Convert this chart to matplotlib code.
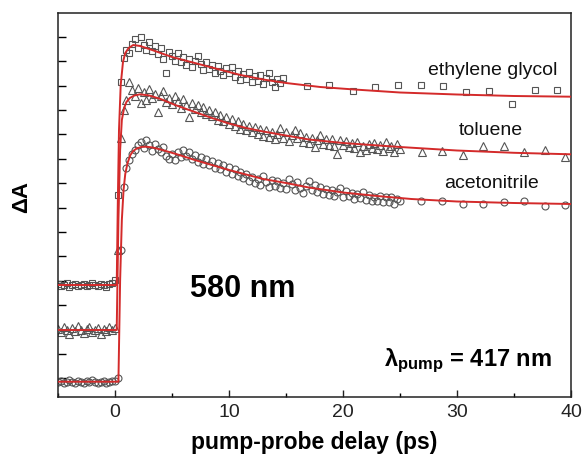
import numpy as np
import matplotlib
matplotlib.use('Agg')
import matplotlib.pyplot as plt
from matplotlib.ticker import MultipleLocator, FixedLocator

# ---------------- data (arbitrary dA units) ----------------
# dense scans (uniform delay-stage grid, 0.25 ps steps)
eg_x = np.arange(-5, 14.76, 0.25)
eg_y = [116, 114, 115, 117, 113, 115, 116, 114, 115, 116,
        114, 115, 117, 115, 114, 116, 115, 113, 116, 117,
        120, 205, 318, 342,
        350, 347, 356, 361,
        352, 363, 355, 350,
        358, 349, 354, 346,
        352, 341, 327, 348,
        344, 339, 347, 338,
        343, 335, 341, 333,
        339, 344, 336, 330,
        338, 331, 335, 327,
        334, 329, 325, 332,
        327, 333, 323, 329,
        320, 326, 321, 328,
        318, 324, 319, 325,
        316, 322, 327, 318,
        313, 321, 317, 322]
eg_sx = [16.8, 18.8, 20.9, 22.8, 24.8, 26.8, 28.8, 30.8, 32.8, 34.8, 36.8, 38.8]
eg_sy = [314, 315, 309, 313, 315, 315, 314, 308, 309, 296, 310, 310]

tol_x = np.arange(-5, 25.01, 0.25)
tol_y = [71, 68, 73, 70, 66, 72, 69, 74, 70, 67,
         71, 73, 68, 70, 72, 66, 71, 69, 73, 70,
         72, 150, 262, 290,
         300, 318, 310, 304,
         312, 297, 308, 300,
         311, 302, 306, 288,
         304, 309, 298, 302,
         296, 304, 299, 292,
         301, 295, 283, 297,
         291, 295, 288, 293,
         286, 290, 284, 288,
         280, 285, 279, 283,
         276, 281, 274, 279,
         271, 276, 270, 274,
         268, 273, 266, 271,
         264, 270, 263, 268,
         261, 266, 272, 262,
         268, 259, 265, 270,
         262, 267, 258, 263,
         257, 262, 253, 260,
         265, 256, 261, 255,
         261, 254, 246, 260,
         255, 259, 253, 257,
         252, 258, 248, 254,
         250, 256, 252, 257,
         251, 255, 249, 258,
         252, 254, 248, 256,
         251]
tol_sx = [26.9, 28.7, 30.5, 32.3, 34.1, 35.9, 37.7, 39.5]
tol_sy = [248, 249, 245, 254, 254, 248, 250, 243]

acn_x = np.arange(-5, 25.01, 0.25)
acn_y = [18, 19, 17, 18, 20, 18, 17, 19, 18, 17,
         19, 18, 20, 18, 17, 18, 19, 17, 18, 19,
         19, 22, 150, 213,
         232, 240, 246, 250,
         255, 258, 252, 260,
         255, 249, 256, 251,
         248, 253, 244, 241,
         246, 240, 248, 243,
         250, 244, 248, 241,
         245, 238, 243, 236,
         241, 235, 239, 232,
         237, 231, 235, 228,
         233, 226, 231, 224,
         228, 222, 226, 219,
         223, 217, 221, 215,
         224, 218, 213, 220,
         214, 219, 212, 217,
         211, 221, 216, 210,
         218, 212, 207, 214,
         219, 210, 215, 208,
         213, 206, 211, 205,
         210, 204, 208, 212,
         203, 209, 204, 207,
         201, 206, 202, 208,
         200, 205, 199, 203,
         199, 204, 198, 203,
         198, 203, 196, 201,
         199]
acn_sx = [26.8, 28.7, 30.5, 32.3, 34.1, 35.9, 37.7, 39.5]
acn_sy = [199, 199, 196, 196, 198, 199, 194, 195]

# fitted curves
eg_fx = [-5, 0.15, 0.25, 0.35, 0.5, 0.7, 0.9, 1.2, 1.6, 2.2, 3, 4, 5, 6, 7, 9, 11, 13,
         15, 18, 21, 25, 30, 35, 40]
eg_fy = [115, 115, 200, 270, 315, 338, 347, 352, 355, 354, 351, 347, 343, 340, 337, 331,
         325, 320.5, 317, 313, 310.5, 307.5, 305.5, 304, 303.3]
tol_fx = [-5, 0.15, 0.3, 0.45, 0.6, 0.8, 1.0, 1.3, 1.7, 2.2, 3, 4, 5.4, 7, 8.5, 10, 11.5,
          13, 15, 17, 20, 25, 30, 35, 40]
tol_fy = [70, 70, 180, 250, 280, 292, 298, 302, 304.5, 305.7, 304.5, 301, 294.5, 288, 282,
          276.5, 272, 268.5, 264.5, 260.5, 257, 253, 249.5, 247.2, 245.7]
acn_fx = [-5, 0.3, 0.45, 0.6, 0.75, 0.9, 1.1, 1.35, 1.6, 1.9, 2.3, 2.7, 3.2, 4, 5.5, 7,
          8.5, 10, 11.5, 13, 15, 17, 20, 23, 26, 30, 35, 40]
acn_fy = [18.3, 18.3, 120, 180, 210, 226, 237, 245, 249, 251.5, 253, 253.3, 252.7, 250.5,
          245.5, 240, 235, 230, 225.5, 221, 217, 212.5, 207.5, 204, 201, 198.5, 197, 196]

labels = ['ethylene glycol', 'toluene', 'acetonitrile']
x_ticks = [0, 10, 20, 30, 40]

# ---------------- plotting ----------------
plt.rcParams['font.family'] = ['Liberation Sans', 'DejaVu Sans']
plt.rcParams['mathtext.fontset'] = 'custom'
plt.rcParams['mathtext.rm'] = 'Liberation Sans'
plt.rcParams['mathtext.bf'] = 'Liberation Sans:bold'
plt.rcParams['mathtext.it'] = 'Liberation Sans:italic'

fig = plt.figure(figsize=(5.82, 4.61), dpi=100)
ax = fig.add_axes([58 / 582, 1 - 397 / 461, 513 / 582, 384 / 461])

mk = dict(ls='none', mfc='none', mec='#555555', mew=0.8, zorder=2)
red = '#d42a2a'

ax.plot(eg_x, eg_y, marker='s', ms=4.8, **mk)
ax.plot(eg_sx, eg_sy, marker='s', ms=4.8, **mk)
ax.plot(tol_x, tol_y, marker='^', ms=5.4, **mk)
ax.plot(tol_sx, tol_sy, marker='^', ms=5.4, **mk)
ax.plot(acn_x, acn_y, marker='o', ms=5.0, **mk)
ax.plot(acn_sx, acn_sy, marker='o', ms=5.0, **mk)

for fx, fy in [(eg_fx, eg_fy), (tol_fx, tol_fy), (acn_fx, acn_fy)]:
    ax.plot(fx, fy, color=red, lw=1.4, zorder=3)

ax.set_xlim(-5, 40)
ax.set_ylim(3, 387)
ax.xaxis.set_major_locator(FixedLocator(x_ticks))
ax.xaxis.set_minor_locator(MultipleLocator(5))
ax.yaxis.set_major_locator(FixedLocator(np.arange(21.7, 364, 24.4)))
ax.set_yticklabels([])
ax.tick_params(axis='x', which='major', direction='in', length=5, width=1.0,
               labelsize=14, pad=5, colors='#222222', top=False)
ax.tick_params(axis='x', which='minor', direction='in', length=3, width=1.0, top=False)
ax.tick_params(axis='y', which='major', direction='in', length=5.5, width=1.0, right=False)
for s in ax.spines.values():
    s.set_linewidth(1.1)
    s.set_color('#222222')

ax.set_xlabel('pump-probe delay (ps)', fontsize=16.5, fontweight='bold', labelpad=7)
ax.set_ylabel('ΔA', fontsize=16, fontweight='bold')
ax.yaxis.set_label_coords(-0.05, 0.52)

ax.text(33.1, 325, labels[0], fontsize=14, ha='center', va='baseline', color='#111111')
ax.text(33.0, 265, labels[1], fontsize=14, ha='center', va='baseline', color='#111111')
ax.text(33.05, 211.7, labels[2], fontsize=14, ha='center', va='baseline', color='#111111')

ax.text(6.6, 103.3, '580 nm', fontsize=22, fontweight='bold', ha='left', va='baseline')
ax.text(38.35, 34, r'λ$_{\mathbf{pump}}$ = 417 nm', fontsize=17, fontweight='bold',
        ha='right', va='baseline')

fig.savefig('out.png', dpi=100)
